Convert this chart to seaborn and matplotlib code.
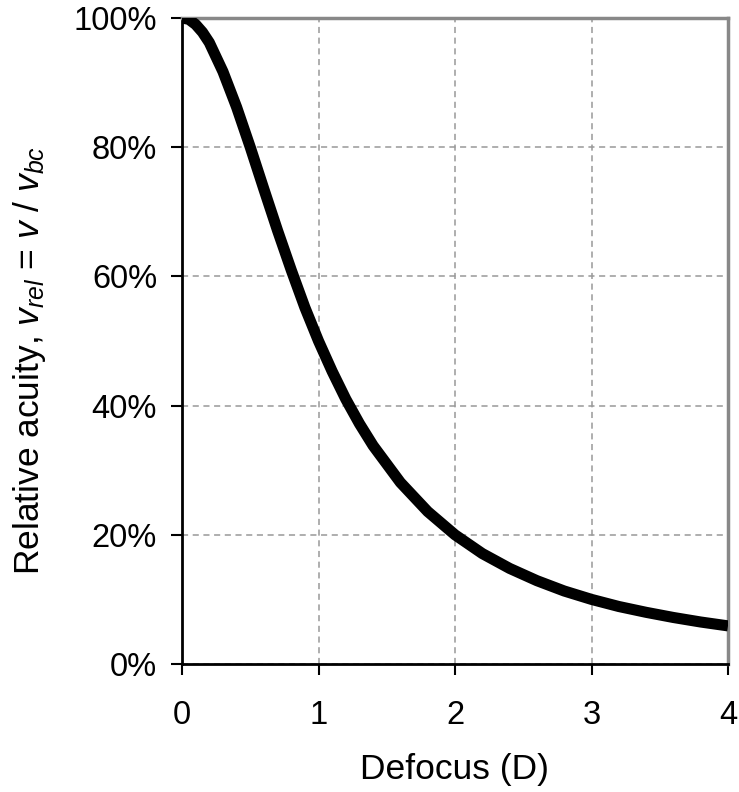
import seaborn as sns
import pandas as pd
import matplotlib.pyplot as plt
from matplotlib.ticker import PercentFormatter

# Values
defocus = [0.0, 0.05, 0.1, 0.15, 0.2, 0.3, 0.4, 0.5, 0.6, 0.7, 0.8, 0.9, 1.0, 1.1,
           1.2, 1.3, 1.4, 1.6, 1.8, 2.0, 2.2, 2.4, 2.6, 2.8, 3.0, 3.2, 3.4, 3.6,
           3.8, 4.0]
acuity = [100, 99.8, 99.0, 97.8, 96.2, 91.7, 86.2, 80.0, 73.5, 67.1, 61.0, 55.2,
          50.0, 45.3, 41.0, 37.2, 33.8, 28.1, 23.6, 20.0, 17.1, 14.8, 12.9, 11.3,
          10.0, 8.9, 8.0, 7.2, 6.5, 5.9]
x_ticks = [0, 1, 2, 3, 4]
y_ticks = [0, 20, 40, 60, 80, 100]

df = pd.DataFrame({'Defocus': defocus, 'Acuity': acuity})

sns.set_style('white')
plt.rcParams['font.family'] = ['Liberation Sans', 'DejaVu Sans']
plt.rcParams['mathtext.fontset'] = 'custom'
plt.rcParams['mathtext.it'] = 'Liberation Sans:italic'
plt.rcParams['mathtext.rm'] = 'Liberation Sans'
plt.rcParams['text.color'] = 'black'
plt.rcParams['axes.labelcolor'] = 'black'
plt.rcParams['xtick.color'] = 'black'
plt.rcParams['ytick.color'] = 'black'

fig = plt.figure(figsize=(7.39, 7.92), dpi=100)
ax = fig.add_axes([182 / 739, 1 - 664 / 792, 546 / 739, 646 / 792])

sns.lineplot(data=df, x='Defocus', y='Acuity', color='black', linewidth=8,
             solid_capstyle='butt', ax=ax, zorder=3)

ax.set_xlim(0, 4)
ax.set_ylim(0, 100)
ax.set_xticks(x_ticks)
ax.set_yticks(y_ticks)
ax.yaxis.set_major_formatter(PercentFormatter(decimals=0))
ax.grid(True, color='#999999', linestyle=(0, (4, 3)), linewidth=1.1)

for side in ['top', 'right']:
    ax.spines[side].set_color('#888888')
    ax.spines[side].set_linewidth(2.5)
for side in ['left', 'bottom']:
    ax.spines[side].set_color('black')
    ax.spines[side].set_linewidth(2)

ax.tick_params(axis='both', direction='out', length=8, width=1.5, color='black',
               labelsize=23.5, labelcolor='black', left=True, bottom=True)
ax.tick_params(axis='y', pad=10)
ax.tick_params(axis='x', pad=18)

ax.set_xlabel('Defocus (D)', fontsize=25.5, labelpad=16)
ax.set_ylabel(r'Relative acuity, $v_{rel}$ = $v$ / $v_{bc}$', fontsize=25.5)
ax.yaxis.set_label_coords(-0.245, 0.47)

fig.savefig('out.png', dpi=100)
